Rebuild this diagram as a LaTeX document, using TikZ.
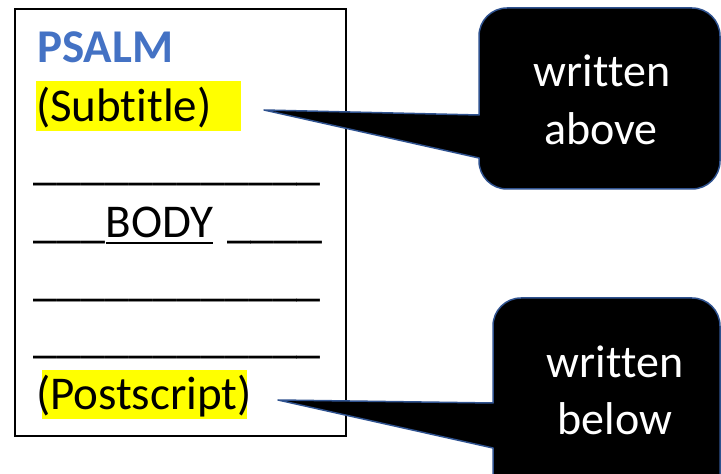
\documentclass[tikz,border=0pt]{standalone}
\usepackage{fontspec}
\setmainfont{Carlito}[Ligatures=NoCommon]
\definecolor{psalmblue}{HTML}{4472C4}
\definecolor{calloutline}{HTML}{2F528F}
\definecolor{hl}{HTML}{FFFF00}
\begin{document}
\begin{tikzpicture}[x=1pt,y=1pt,
  doctext/.style={inner sep=0pt, outer sep=0pt, anchor=base west, font=\fontsize{47}{56}\selectfont},
  calltext/.style={inner sep=0pt, outer sep=0pt, anchor=base, text=white, font=\fontsize{46}{56}\selectfont},
  callout/.style={fill=black, draw=calloutline, line width=1.5pt, line join=round},
  hilite/.style={fill=hl, draw=none}]
\useasboundingbox (0,0) rectangle (721,474);
% page box
\draw[line width=1.5pt] (15,38) rectangle (346,465);
% highlights
\fill[hilite] (36,343) rectangle (241,393);
\fill[hilite] (42,55) rectangle (247,104);
% texts of the page
\node[doctext, text=psalmblue, font=\fontsize{47}{56}\selectfont\bfseries] (psalm) at (37,411) {PSALM};
\node[doctext] (sub) at (36,352) {(Subtitle)};
\node[doctext, font=\fontsize{48}{56}\selectfont] (l1) at (34,294) {\_\_\_\_\_\_\_\_\_\_\_\_};
\node[doctext, font=\fontsize{48}{56}\selectfont] (l2a) at (34,236) {\_\_\_};
\node[doctext] (body) at (l2a.base east) {BODY};
\node[doctext, font=\fontsize{48}{56}\selectfont] (l2b) at (227,236) {\_\_\_\_};
\draw[line width=2pt] (body.base west) ++(0,-5) -- ([yshift=-5pt]body.base east);
\node[doctext, font=\fontsize{48}{56}\selectfont] (l3) at (34,178) {\_\_\_\_\_\_\_\_\_\_\_\_};
\node[doctext, font=\fontsize{48}{56}\selectfont] (l4) at (34,121) {\_\_\_\_\_\_\_\_\_\_\_\_};
\node[doctext] (post) at (36,64) {(Postscript)};
% top callout
\coordinate (tipA) at (264,364);
\draw[callout] (479,359) -- (tipA) -- (479,316) -- (479,313)
  arc(180:270:28) -- (692,285) arc(270:360:28) -- (720,438) arc(0:90:28)
  -- (507,466) arc(90:180:28) -- cycle;
\node[calltext] (wa1) at (602,387) {written};
\node[calltext] (wa2) at (601,329) {above};
% bottom callout
\begin{scope}
\clip (0,0) rectangle (721,474);
\coordinate (tipB) at (278,74);
\draw[callout] (493,71) -- (tipB) -- (493,26) -- (493,-46) -- (720,-46)
  -- (720,148) arc(0:90:28) -- (521,176) arc(90:180:28) -- cycle;
\end{scope}
\node[calltext] (wb1) at (615,96) {written};
\node[calltext] (wb2) at (615,39) {below};
\end{tikzpicture}
\end{document}
